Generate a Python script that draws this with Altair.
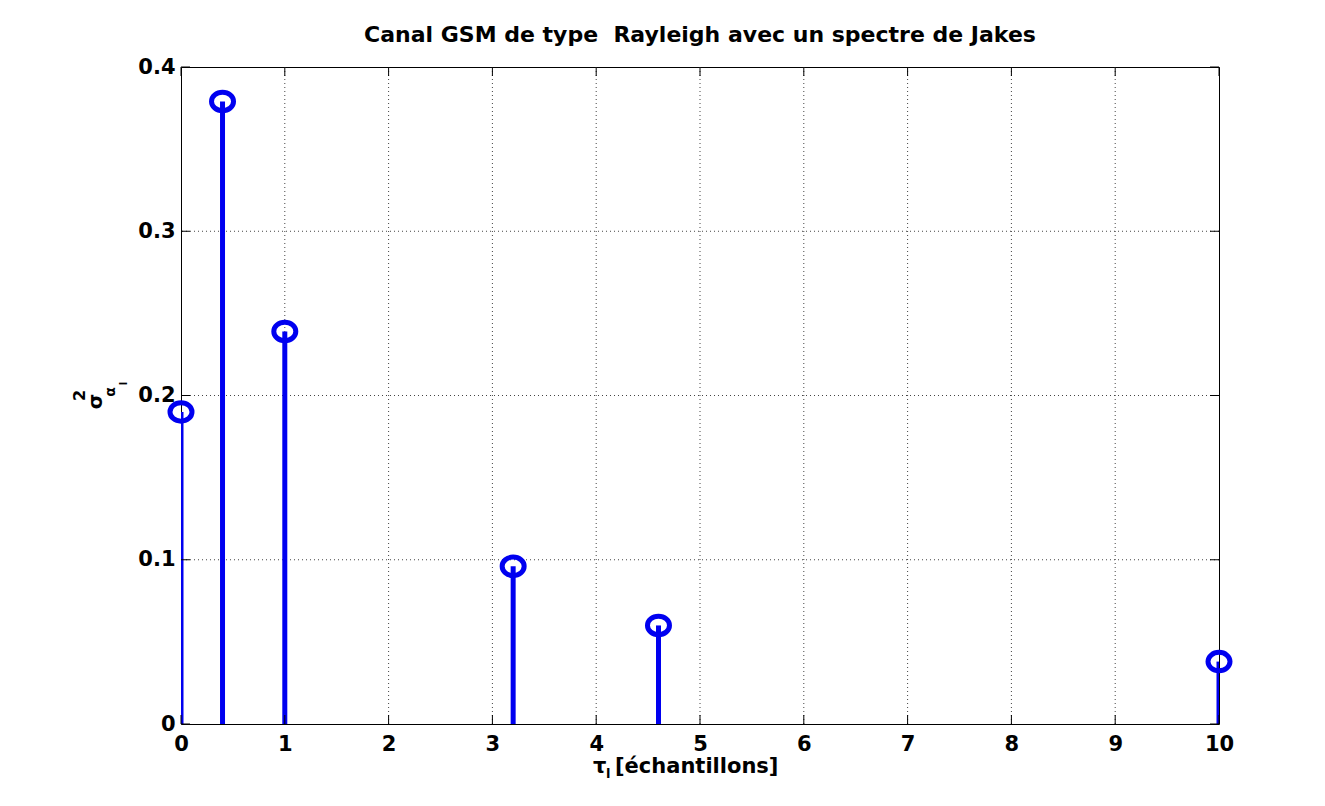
import altair as alt
import pandas as pd

# ---- data ----
tap_delays = [0, 0.4, 1, 3.2, 4.6, 10]
tap_powers = [0.19, 0.379, 0.239, 0.096, 0.06, 0.038]
x_ticks = [0, 1, 2, 3, 4, 5, 6, 7, 8, 9, 10]
y_ticks = [0, 0.1, 0.2, 0.3, 0.4]
title_text = "Canal GSM de type \u00a0Rayleigh avec un spectre de Jakes"
xlabel_main = "τ"
xlabel_sub = "l"
xlabel_rest = "[échantillons]"
ylabel_main = "σ"
ylabel_sup = "2"
ylabel_sub = "α"
ylabel_subsub = "l"

W, H = 1038, 657
BLUE = "#0000f0"
FONT = "DejaVu Sans"
TICK = 9

df = pd.DataFrame({"tau": tap_delays, "p": tap_powers})
xt = pd.DataFrame({"v": x_ticks})
yt = pd.DataFrame({"v": y_ticks})
xg = pd.DataFrame({"v": x_ticks[1:-1]})
yg = pd.DataFrame({"v": y_ticks[1:-1]})
one = pd.DataFrame({"k": [0]})

xs = alt.Scale(domain=[0, 10], nice=False, zero=False)
ys = alt.Scale(domain=[0, 0.4], nice=False, zero=False)

x_axis = alt.Axis(values=x_ticks, format="d", labelFont=FONT, labelFontSize=21,
                  labelFontWeight="bold", labelColor="black", labelPadding=9,
                  labelFlush=False, ticks=False, domain=False, grid=False)
y_axis = alt.Axis(values=y_ticks, labelExpr="datum.value == 0 ? '0' : format(datum.value, '.1f')",
                  labelFont=FONT, labelFontSize=21, labelFontWeight="bold",
                  labelColor="black", labelPadding=6, labelFlush=False,
                  ticks=False, domain=False, grid=False)

grid_x = alt.Chart(xg).mark_rule(color="#444444", strokeWidth=1, strokeDash=[1, 3]).encode(
    x=alt.X("v:Q", scale=xs, axis=x_axis, title=None))
grid_y = alt.Chart(yg).mark_rule(color="#444444", strokeWidth=1, strokeDash=[1, 3]).encode(
    y=alt.Y("v:Q", scale=ys, axis=y_axis, title=None))

stems = alt.Chart(df).mark_rule(color=BLUE, strokeWidth=5, clip=True).encode(
    x=alt.X("tau:Q", scale=xs, title=None),
    y=alt.Y("p:Q", scale=ys, title=None),
    y2=alt.datum(0),
)
markers = alt.Chart(df).mark_point(
    shape="M-1,0A1,0.84,0,1,1,1,0A1,0.84,0,1,1,-1,0Z",
    size=484, filled=False, strokeWidth=5, color=BLUE, opacity=1,
).encode(
    x=alt.X("tau:Q", scale=xs, title=None),
    y=alt.Y("p:Q", scale=ys, title=None),
)

tick_b = alt.Chart(xt).mark_rule(color="black", strokeWidth=1).encode(
    x=alt.X("v:Q", scale=xs, title=None), y=alt.value(H), y2=alt.value(H - TICK))
tick_t = alt.Chart(xt).mark_rule(color="black", strokeWidth=1).encode(
    x=alt.X("v:Q", scale=xs, title=None), y=alt.value(0), y2=alt.value(TICK))
tick_l = alt.Chart(yt).mark_rule(color="black", strokeWidth=1).encode(
    y=alt.Y("v:Q", scale=ys, title=None), x=alt.value(0), x2=alt.value(TICK))
tick_r = alt.Chart(yt).mark_rule(color="black", strokeWidth=1).encode(
    y=alt.Y("v:Q", scale=ys, title=None), x=alt.value(W), x2=alt.value(W - TICK))


def txt(s, x, y, size, angle=0, align="left"):
    return alt.Chart(one).mark_text(
        text=s, font=FONT, fontSize=size, fontWeight="bold", align=align,
        baseline="alphabetic", angle=angle, color="black",
    ).encode(x=alt.value(x), y=alt.value(y))


labels = [
    txt(xlabel_main, 412, 706, 21),
    txt(xlabel_sub, 425, 711, 13),
    txt(xlabel_rest, 434, 706, 21),
    txt(ylabel_main, -79, 334.5, 20, angle=270, align="center"),
    txt(ylabel_sup, -96, 328.5, 16, angle=270, align="center"),
    txt(ylabel_sub, -66, 325, 14, angle=270, align="center"),
    txt(ylabel_subsub, -54, 316.5, 10, angle=270, align="center"),
]

chart = alt.layer(grid_x, grid_y, stems, markers, tick_b, tick_t, tick_l, tick_r, *labels).properties(
    width=W, height=H,
    title=alt.TitleParams(text=title_text, font=FONT, fontSize=22, fontWeight="bold",
                          color="black", anchor="middle", frame="group",
                          baseline="alphabetic", offset=-8),
    autosize=alt.AutoSizeParams(type="none"),
    padding={"left": 173, "top": 59, "right": 80, "bottom": 70},
    background="white",
).configure_view(stroke="black", strokeWidth=1)

chart.save("out.html", embed_options={"renderer": "svg", "actions": False})
